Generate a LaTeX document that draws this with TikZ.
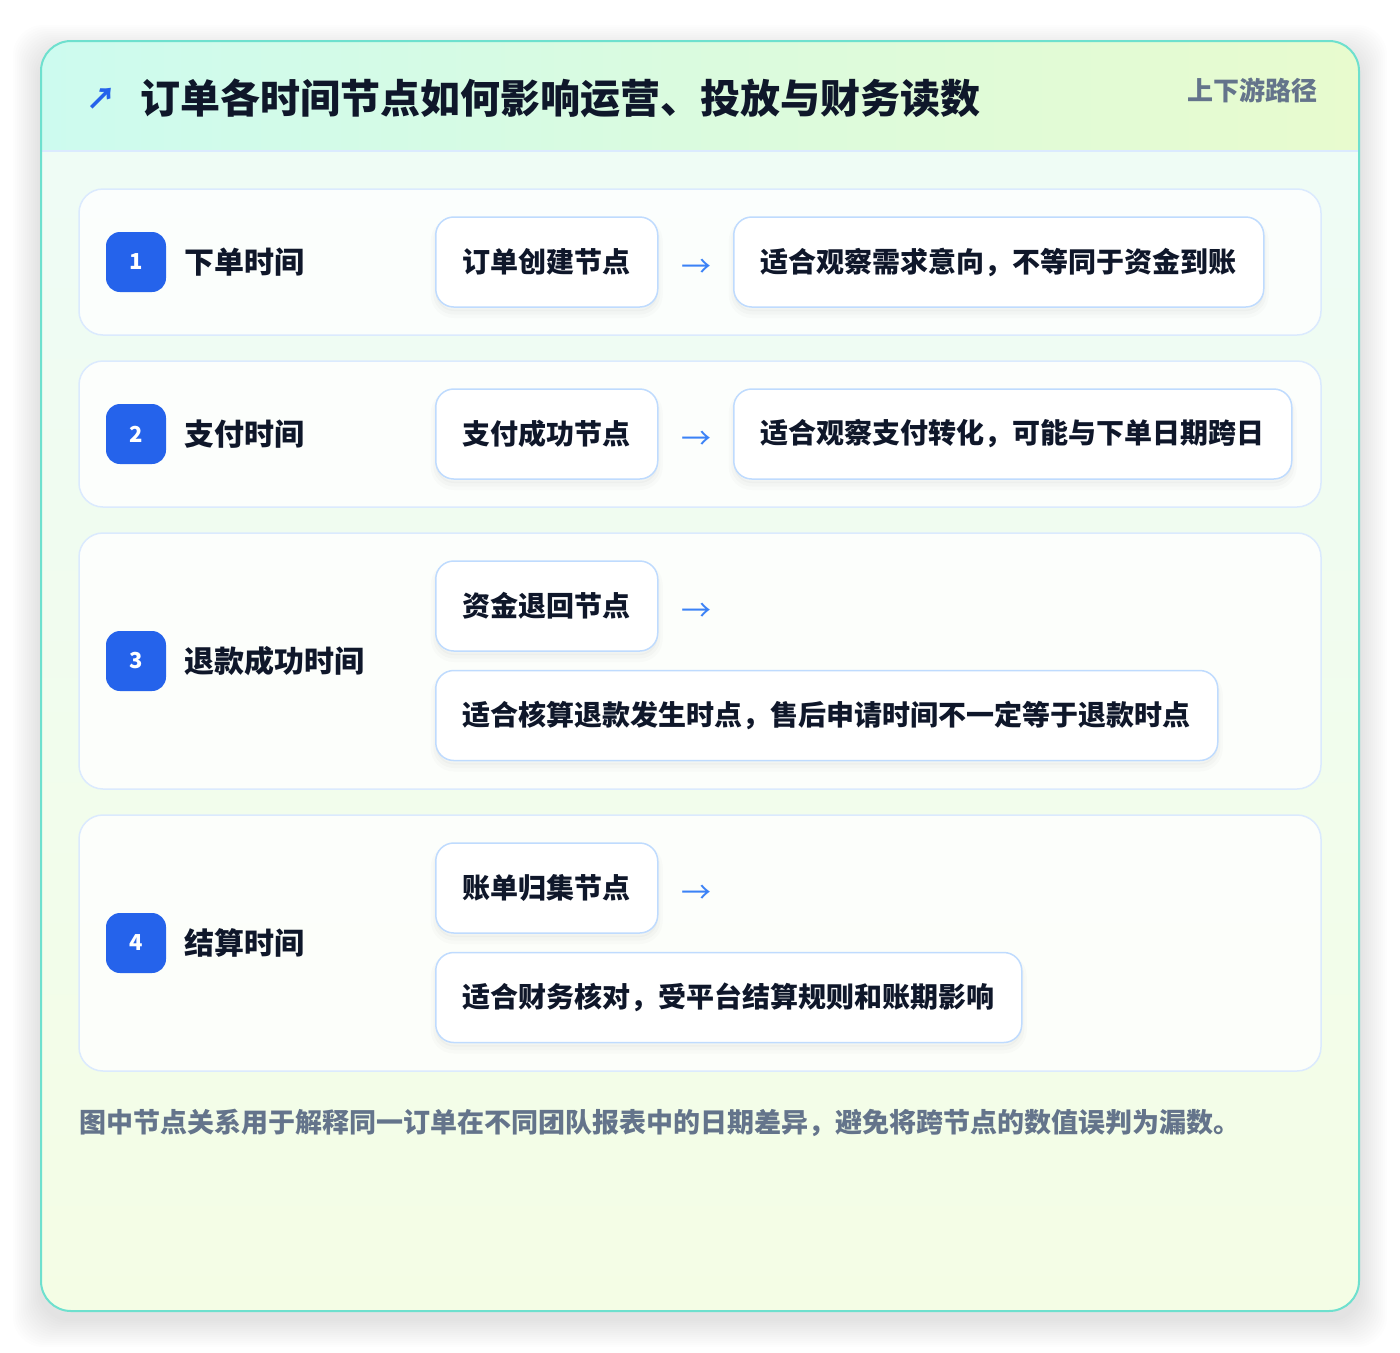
\documentclass[tikz,border=0pt]{standalone}
\usepackage{fontspec}
\setmainfont{Noto Sans CJK SC}
\usetikzlibrary{positioning}

\definecolor{cardline}{HTML}{6EE0CE}
\definecolor{headl}{HTML}{CDFBEF}
\definecolor{headr}{HTML}{E8FBCE}
\definecolor{bodytop}{HTML}{EEFCF7}
\definecolor{bodybot}{HTML}{F4FDE5}
\definecolor{rowline}{HTML}{DBEAFE}
\definecolor{nodeline}{HTML}{BFDBFE}
\definecolor{badgeblue}{HTML}{2563EB}
\definecolor{arrowblue}{HTML}{3B82F6}
\definecolor{ink}{HTML}{0F172A}
\definecolor{slate}{HTML}{64748B}

\newcommand{\fs}[1]{\fontsize{#1}{#1}\selectfont}

\begin{document}
\begin{tikzpicture}[x=1pt,y=-1pt,
    rowbox/.style={draw=rowline,line width=1.5pt,fill=white,fill opacity=0.8,rounded corners=24pt},
    badge/.style={fill=badgeblue,rounded corners=14pt,minimum size=60pt,inner sep=0pt,text=white,font=\fs{22}\bfseries},
    rowlabel/.style={inner sep=0pt,text=ink,font=\fs{30}\bfseries},
    softshadow/.style={preaction={draw=black,line width=10pt,opacity=0.015,transform canvas={yshift=-6pt}},
      preaction={draw=black,line width=5pt,opacity=0.02,transform canvas={yshift=-5pt}},
      preaction={fill=black,opacity=0.025,transform canvas={yshift=-4pt}}},
    stepnode/.style={draw=nodeline,line width=1.5pt,fill=white,rounded corners=18pt,minimum height=90pt,
      inner xsep=27pt,inner ysep=0pt,text=ink,font=\fs{28}\bfseries,softshadow},
    flow/.style={inner sep=0pt,text=arrowblue,font=\fs{30}}]

  \useasboundingbox (0,0) rectangle (1400,1352);
  \fill[white] (0,0) rectangle (1400,1352);

  % card shadow
  \foreach \r in {1,...,14}
    \fill[black,opacity=0.006,rounded corners=30pt]
      (41-2*\r,41-2*\r+12) rectangle (1359+2*\r,1311+2*\r+8);

  % card
  \shade[rounded corners=30pt,top color=bodytop,bottom color=bodybot] (41,41) rectangle (1359,1311);
  \begin{scope}
    \clip[rounded corners=30pt] (41,41) rectangle (1359,1311);
    \shade[left color=headl,right color=headr] (41,41) rectangle (1359,151);
  \end{scope}
  \draw[rowline,line width=1.5pt] (41,151) -- (1359,151);
  \draw[cardline,line width=2pt,rounded corners=30pt] (41,41) rectangle (1359,1311);

  % header
  \node[text=badgeblue,font=\fs{30}\bfseries,inner sep=0pt] (icon) at (101,99) {↗};
  \node[anchor=west,inner sep=0pt,text=ink,font=\fs{40}\bfseries] (title) at (140,98)
    {订单各时间节点如何影响运营、投放与财务读数};
  \node[anchor=east,inner sep=0pt,text=slate,font=\fs{26}\bfseries] (tag) at (1318,90) {上下游路径};

  % rows
  \draw[rowbox] (79,189) rectangle (1321,335);
  \draw[rowbox] (79,361) rectangle (1321,507);
  \draw[rowbox] (79,533) rectangle (1321,789);
  \draw[rowbox] (79,815) rectangle (1321,1071);

  % row 1
  \node[badge] (b1) at (136,262) {1};
  \node[rowlabel,right=18pt of b1] (l1) {下单时间};
  \node[stepnode,anchor=west] (n1) at (435,262) {订单创建节点};
  \node[flow,right=23pt of n1,yshift=-6pt] (a1) {→};
  \node[stepnode,anchor=west] (d1) at (733,262) {适合观察需求意向，不等同于资金到账};

  % row 2
  \node[badge] (b2) at (136,434) {2};
  \node[rowlabel,right=18pt of b2] (l2) {支付时间};
  \node[stepnode,anchor=west] (n2) at (435,434) {支付成功节点};
  \node[flow,right=23pt of n2,yshift=-6pt] (a2) {→};
  \node[stepnode,anchor=west] (d2) at (733,434) {适合观察支付转化，可能与下单日期跨日};

  % row 3
  \node[badge] (b3) at (136,661) {3};
  \node[rowlabel,right=18pt of b3] (l3) {退款成功时间};
  \node[stepnode,anchor=west] (n3) at (435,606) {资金退回节点};
  \node[flow,right=23pt of n3,yshift=-6pt] (a3) {→};
  \node[stepnode,below=18pt of n3.south west,anchor=north west] (d3)
    {适合核算退款发生时点，售后申请时间不一定等于退款时点};

  % row 4
  \node[badge] (b4) at (136,943) {4};
  \node[rowlabel,right=18pt of b4] (l4) {结算时间};
  \node[stepnode,anchor=west] (n4) at (435,888) {账单归集节点};
  \node[flow,right=23pt of n4,yshift=-6pt] (a4) {→};
  \node[stepnode,below=18pt of n4.south west,anchor=north west] (d4)
    {适合财务核对，受平台结算规则和账期影响};

  % footnote
  \node[anchor=west,inner sep=0pt,text=slate,font=\fs{27}\bfseries] (note) at (79,1123)
    {图中节点关系用于解释同一订单在不同团队报表中的日期差异，避免将跨节点的数值误判为漏数。};
\end{tikzpicture}
\end{document}
